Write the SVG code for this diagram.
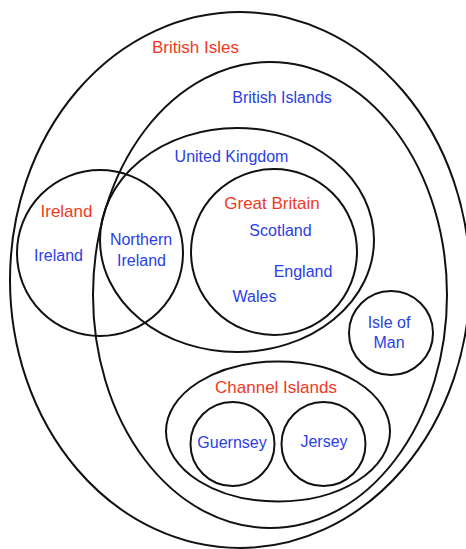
<svg xmlns="http://www.w3.org/2000/svg" width="466" height="549" viewBox="0 0 466 549">
<style>
.s{fill:none;stroke:#111;stroke-width:2}
text{font-family:"Liberation Sans",Arial,sans-serif;font-size:16px;text-anchor:middle}
.r{fill:#f0391f}
.b{fill:#2b40e6}
</style>
<rect width="466" height="549" fill="#fff"/>
<g id="british-isles"><ellipse class="s" cx="240" cy="280" rx="230" ry="268"/><text class="r" x="195.5" y="53" style="font-size:17px">British Isles</text></g>
<g id="british-islands"><ellipse class="s" cx="270" cy="295" rx="177" ry="233"/><text class="b" x="282" y="103">British Islands</text></g>
<g id="united-kingdom"><ellipse class="s" cx="237" cy="240" rx="137" ry="112"/><text class="b" x="231.5" y="162">United Kingdom</text></g>
<g id="ireland"><circle class="s" cx="100" cy="253" r="83"/><text class="r" x="66.5" y="217" style="font-size:17px">Ireland</text><text class="b" x="58.5" y="261">Ireland</text></g>
<g id="northern-ireland"><text class="b" x="141" y="245">Northern</text><text class="b" x="141.5" y="266">Ireland</text></g>
<g id="great-britain"><circle class="s" cx="274" cy="252" r="83"/><text class="r" x="272" y="209" style="font-size:17px">Great Britain</text><text class="b" x="280.5" y="236">Scotland</text><text class="b" x="303" y="277">England</text><text class="b" x="254.5" y="302">Wales</text></g>
<g id="isle-of-man"><circle class="s" cx="391" cy="333" r="42"/><text class="b" x="389" y="328">Isle of</text><text class="b" x="389" y="348">Man</text></g>
<g id="channel-islands"><ellipse class="s" cx="278" cy="431.5" rx="112" ry="70"/><text class="r" x="276" y="393" style="font-size:17px">Channel Islands</text></g>
<g id="guernsey"><circle class="s" cx="232.5" cy="444" r="42"/><text class="b" x="232" y="448">Guernsey</text></g>
<g id="jersey"><circle class="s" cx="323.5" cy="444" r="42"/><text class="b" x="324" y="447">Jersey</text></g>
<g id="connectors"/>
</svg>
